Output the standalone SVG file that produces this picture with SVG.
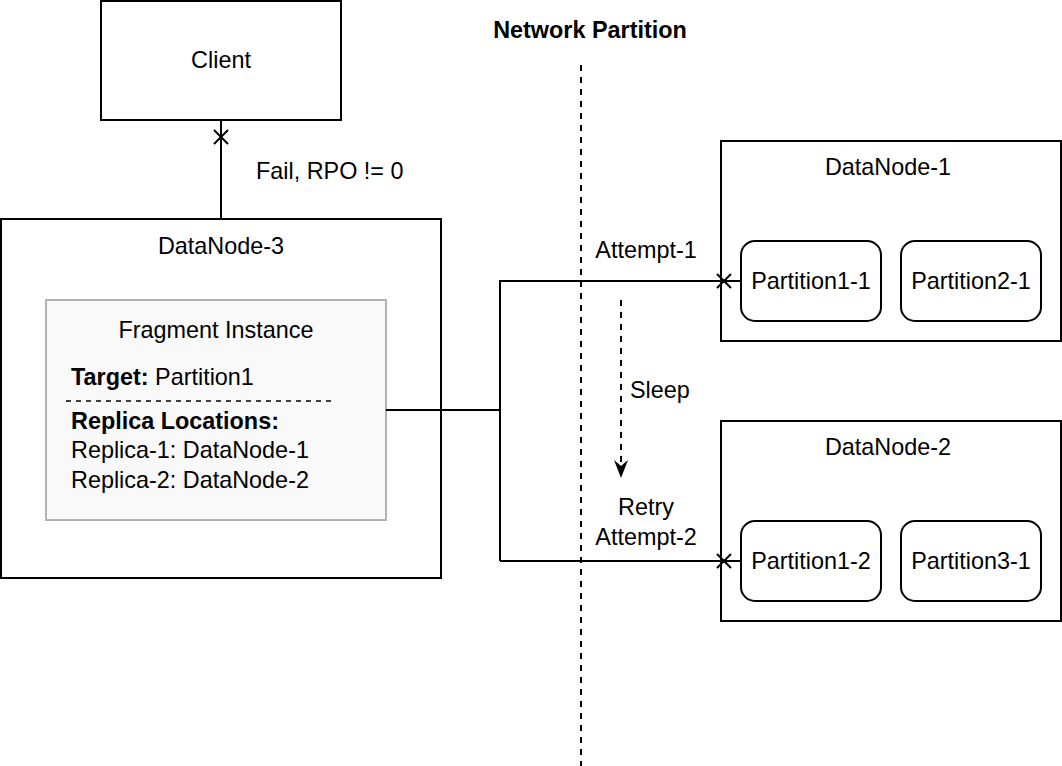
<svg xmlns="http://www.w3.org/2000/svg" width="1062" height="766" viewBox="0 0 1062 766">
<style>
text{font-family:"Liberation Sans",Arial,sans-serif;font-size:23.4px;fill:#000}
.c{text-anchor:middle}
.b{font-weight:bold}
.box{fill:#fff;stroke:#000;stroke-width:2}
.rbox{fill:#fff;stroke:#000;stroke-width:2}
.ln{fill:none;stroke:#000;stroke-width:2}
.dash{fill:none;stroke:#000;stroke-width:2;stroke-dasharray:6 6}
</style>
<rect width="1062" height="766" fill="#fff"/>
<g id="client">
<rect class="box" x="101" y="1" width="240" height="119"/>
<text x="221" y="68" class="c">Client</text>
</g>
<g id="datanode3">
<rect class="box" x="1" y="219" width="440" height="359"/>
<text x="221" y="254" class="c">DataNode-3</text>
</g>
<g id="fragment">
<rect x="46" y="300" width="340" height="220" fill="#f9f9f9" stroke="#b3b3b3" stroke-width="2"/>
<text x="216" y="338" class="c">Fragment Instance</text>
<text x="71" y="385"><tspan class="b">Target:</tspan> Partition1</text>
<line x1="66" y1="401" x2="336" y2="401" stroke="#000" stroke-width="1.5" stroke-dasharray="5 5"/>
<text x="71" y="429" class="b">Replica Locations:</text>
<text x="71" y="458">Replica-1: DataNode-1</text>
<text x="71" y="488">Replica-2: DataNode-2</text>
</g>
<g id="datanode1">
<rect class="box" x="721" y="141" width="340" height="200"/>
<text x="888" y="175" class="c">DataNode-1</text>
</g>
<g id="p11">
<rect class="rbox" x="741" y="241" width="140" height="80" rx="14"/>
<text x="811" y="289" class="c">Partition1-1</text>
</g>
<g id="p21">
<rect class="rbox" x="901" y="241" width="140" height="80" rx="14"/>
<text x="971" y="289" class="c">Partition2-1</text>
</g>
<g id="datanode2">
<rect class="box" x="721" y="421" width="340" height="200"/>
<text x="888" y="455" class="c">DataNode-2</text>
</g>
<g id="p12">
<rect class="rbox" x="741" y="521" width="140" height="80" rx="14"/>
<text x="811" y="569" class="c">Partition1-2</text>
</g>
<g id="p31">
<rect class="rbox" x="901" y="521" width="140" height="80" rx="14"/>
<text x="971" y="569" class="c">Partition3-1</text>
</g>
<g id="connectors">
<line class="dash" x1="581" y1="65" x2="581" y2="766"/>
<line class="ln" x1="221" y1="120" x2="221" y2="219"/>
<path class="ln" d="M214,130 L228,144 M228,130 L214,144"/>
<path class="ln" d="M386,410 L500,410 M500,280 L500,561 M500,281 L741,281 M500,561 L741,561"/>
<path class="ln" d="M717,274 L731,288 M731,274 L717,288"/>
<path class="ln" d="M717,554 L731,568 M731,554 L717,568"/>
<line class="dash" x1="621" y1="300" x2="621" y2="462"/>
<path d="M614,460 L621,478 L628,460 L621,466 Z" fill="#000"/>
<text x="646" y="258" class="c">Attempt-1</text>
<text x="630" y="398">Sleep</text>
<text x="646" y="515" class="c">Retry</text>
<text x="646" y="545" class="c">Attempt-2</text>
<text x="256" y="179">Fail, RPO != 0</text>
<text x="590" y="38" class="c b">Network Partition</text>
</g>
</svg>
